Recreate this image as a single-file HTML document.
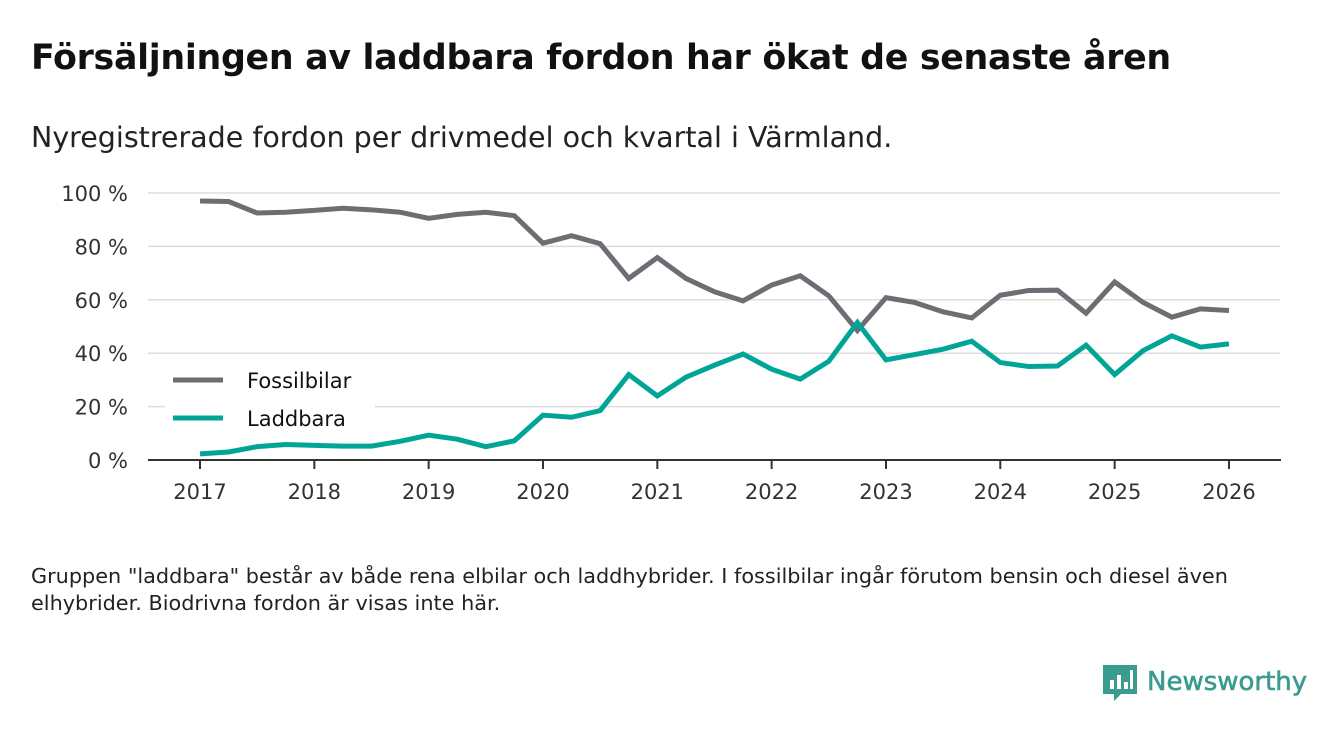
<!DOCTYPE html>
<html><head><meta charset="utf-8"><style>
body{margin:0;width:1340px;height:733px;background:#fff;font-family:"DejaVu Sans","Liberation Sans",sans-serif;color:#111;overflow:hidden;position:relative}
.t{position:absolute;left:31px;top:38px;font-size:34.8px;font-weight:bold;letter-spacing:-0.3px;white-space:nowrap}
.s{position:absolute;left:31px;top:121px;font-size:28.5px;color:#222;white-space:nowrap}
.f{position:absolute;left:31px;top:563px;font-size:20.8px;line-height:27px;color:#222;width:1260px}
</style></head><body>
<div class="t">Försäljningen av laddbara fordon har ökat de senaste åren</div>
<div class="s">Nyregistrerade fordon per drivmedel och kvartal i Värmland.</div>
<svg id="c" width="1340" height="733" style="position:absolute;left:0;top:0"></svg>
<div class="f">Gruppen "laddbara" består av både rena elbilar och laddhybrider. I fossilbilar ingår förutom bensin och diesel även elhybrider. Biodrivna fordon är visas inte här.</div>
<div style="position:absolute;left:1103px;top:662px;display:flex;align-items:center">
<svg width="34" height="40"><path d="M0 3h34v29H18l-7 7v-7H0z" fill="#3a9b8f"/><rect x="7" y="18" width="4" height="9" fill="#fff"/><rect x="14" y="13" width="4" height="14" fill="#fff"/><rect x="21" y="20" width="4" height="7" fill="#fff"/><rect x="27" y="8" width="3" height="19" fill="#fff"/></svg>
<span style="font-size:26px;color:#3a9b8f;margin-left:10px;-webkit-text-stroke:0.6px #3a9b8f">Newsworthy</span></div>
<script>
const years=[2017,2018,2019,2020,2021,2022,2023,2024,2025,2026];
const yTicks=[0,20,40,60,80,100];
const fossil=[97,96.8,92.5,92.8,93.5,94.3,93.7,92.8,90.5,92,92.8,91.5,81.2,84,81,68,75.8,68,63,59.6,65.5,69,61.5,48.5,60.8,59,55.5,53.2,61.7,63.5,63.6,55,66.7,59,53.5,56.6,56];
const laddbara=[2.3,3,5,5.8,5.5,5.2,5.2,7,9.3,7.8,5,7.2,16.8,16,18.5,32,24,31,35.5,39.7,34,30.3,37,51.5,37.5,39.5,41.5,44.5,36.5,35,35.2,43,32,41,46.5,42.3,43.5];
const NS="http://www.w3.org/2000/svg",svg=document.getElementById('c');
const x=t=>200+(t-2017)*114.33, y=v=>460-v*2.67;
function mk(tag,a,txt){const e=document.createElementNS(NS,tag);for(const k in a)e.setAttribute(k,a[k]);if(txt!=null)e.textContent=txt;svg.appendChild(e);return e;}
yTicks.forEach(v=>{
 if(v>0){const g=mk('line',{x1:148,x2:1280,y1:y(v),y2:y(v),stroke:'#ddd','stroke-width':1.5});
 
 }
 const l=mk('text',{x:128,y:y(v)+8,'text-anchor':'end','font-size':21,fill:'#333'},v+' %');
 
 
});
const ax=mk('line',{x1:148,x2:1281,y1:460,y2:460,stroke:'#333','stroke-width':2});


years.forEach(t=>{
 mk('line',{x1:x(t),x2:x(t),y1:460,y2:469,stroke:'#333','stroke-width':2});
 const l=mk('text',{x:x(t),y:499,'text-anchor':'middle','font-size':21,fill:'#333'},t);
 
 
});
function line(d,col,name){
 const p=mk('polyline',{points:d.map((v,i)=>x(2017+i/4)+','+y(v)).join(' '),fill:'none',stroke:col,'stroke-width':5,'stroke-linejoin':'miter'});
 
 
}
line(fossil,'#6e6d73','fossilbilar-line');
line(laddbara,'#00a597','laddbara-line');
mk('rect',{x:165,y:362,width:210,height:70,fill:'#fff'});
[['Fossilbilar','#6e6d73',380],['Laddbara','#00a597',418]].forEach(([n,c,yy])=>{
 mk('line',{x1:173,x2:223,y1:yy,y2:yy,stroke:c,'stroke-width':5});
 const t=mk('text',{x:247,y:yy+8,'font-size':21,fill:'#111'},n);
 
 
});
</script>
</body></html>
